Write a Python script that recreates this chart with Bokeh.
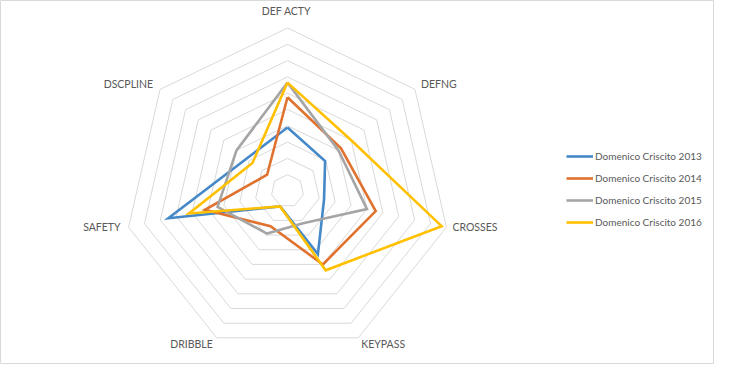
import numpy as np
from bokeh.plotting import figure
from bokeh.models import Range1d, Legend, LegendItem, ColumnDataSource
from bokeh.embed import file_html
from bokeh.resources import INLINE
from bokeh.core.properties import value

# ---- data ----
categories = ["DEF ACTY", "DEFNG", "CROSSES", "KEYPASS", "DRIBBLE", "SAFETY", "DSCPLINE"]
series_names = ["Domenico Criscito 2013", "Domenico Criscito 2014",
                "Domenico Criscito 2015", "Domenico Criscito 2016"]
v2013 = [3.9, 2.95, 2.3, 4.3, 1.05, 7.5, 3.2]
v2014 = [5.75, 4.2, 5.55, 5.0, 2.4, 5.2, 1.6]
v2015 = [6.65, 4.0, 5.0, 2.2, 2.9, 4.4, 4.0]
v2016 = [6.65, 5.0, 9.7, 5.4, 1.05, 6.2, 2.75]
ring_levels = list(range(1, 11))

# ---- style / layout ----
colors = ["#4689C8", "#E0722F", "#A5A5A5", "#FFC000"]
W, H = 714, 364
cx, cy = 287.0, 190.5      # centre in canvas px
u = 16.3                   # px per unit
FONT = "Lato"
TXT = "#595959"

p = figure(width=W, height=H, output_backend="svg", toolbar_location=None,
           x_axis_type=None, y_axis_type=None, min_border=0,
           x_range=Range1d(-cx / u, (W - cx) / u),
           y_range=Range1d(-(H - cy) / u, cy / u))
p.grid.visible = False
p.outline_line_color = "#d9d9d9"
p.outline_line_width = 1
p.background_fill_color = "white"
p.border_fill_color = "white"

n = len(categories)
theta = np.pi / 2 - 2 * np.pi * np.arange(n) / n
cs, sn = np.cos(theta), np.sin(theta)

# rings
rx = [list(np.append(r * cs, r * cs[0])) for r in ring_levels]
ry = [list(np.append(r * sn, r * sn[0])) for r in ring_levels]
p.multi_line(rx, ry, line_color="#d9d9d9", line_width=1)

# series
renderers = []
for vals, col in zip([v2013, v2014, v2015, v2016], colors):
    v = np.array(vals)
    xs = np.append(v * cs, v[0] * cs[0])
    ys = np.append(v * sn, v[0] * sn[0])
    r = p.line(xs, ys, line_color=col, line_width=2.6, line_join="miter")
    renderers.append(r)

# category labels
R = ring_levels[-1]
aligns = ["center", "left", "left", "left", "right", "right", "right"]
xoff = [-1, 6, 6, 3, -4, -8, -7]
yoff = [-17, -5, 0, 6, 6, 0, -5]
src = ColumnDataSource(dict(x=R * cs, y=R * sn, t=categories, a=aligns, xo=xoff, yo=yoff))
p.text(x="x", y="y", text="t", source=src, text_align="a", text_baseline="middle",
       x_offset="xo", y_offset="yo", text_font=value(FONT), text_font_size="10.5px",
       text_color=TXT)

# legend
legend = Legend(items=[LegendItem(label=nm, renderers=[r]) for nm, r in zip(series_names, renderers)],
                location=(566, 132), glyph_width=27, glyph_height=20, label_height=20,
                spacing=2, padding=0, margin=0, border_line_alpha=0, background_fill_alpha=0,
                label_text_font=FONT, label_text_font_size="10px", label_standoff=2,
                label_text_color=TXT)
p.add_layout(legend)

open("out.html", "w").write(file_html(p, INLINE))
